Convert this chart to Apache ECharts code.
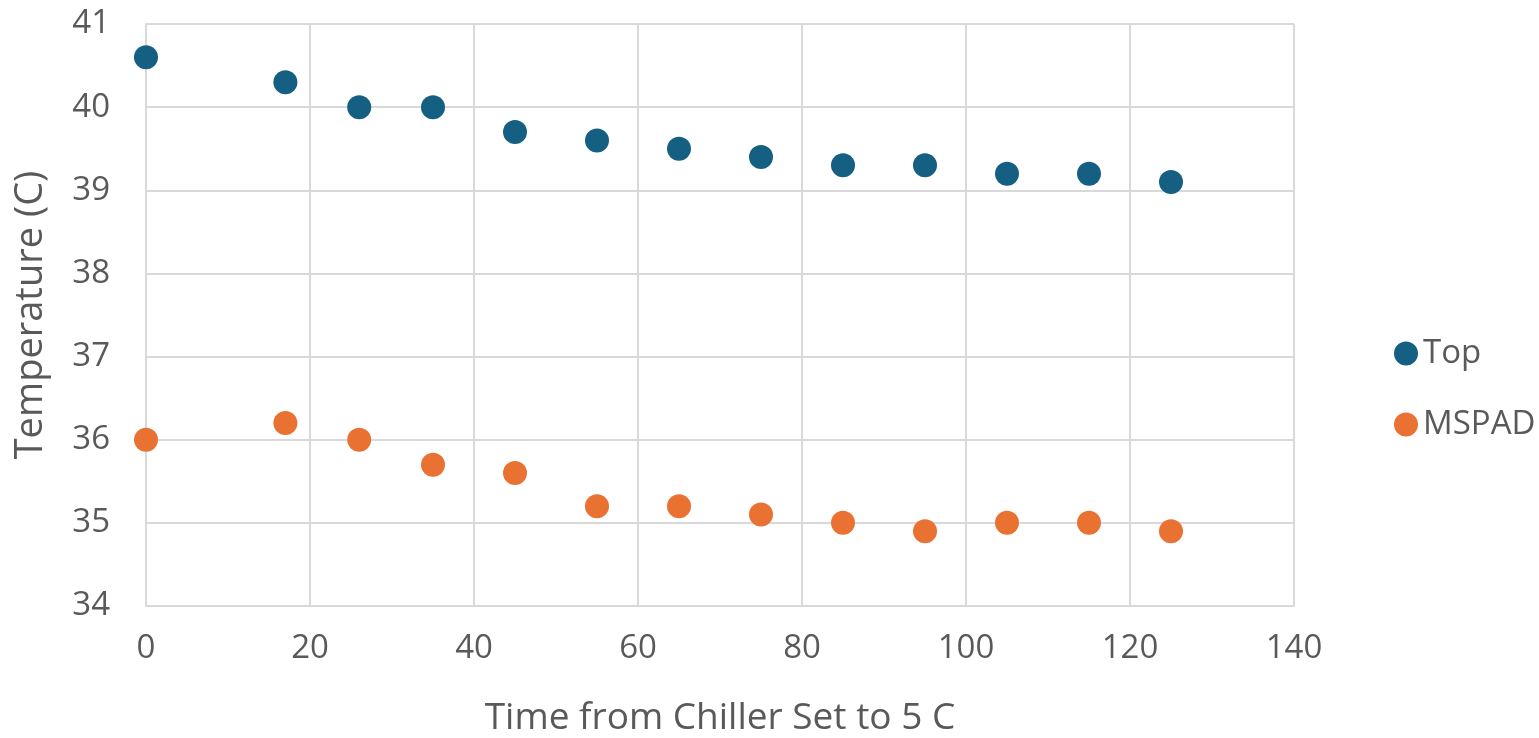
<!DOCTYPE html>
<html><head><meta charset="utf-8">
<script src="https://cdn.jsdelivr.net/npm/echarts@6/dist/echarts.min.js"></script>
<style>html,body{margin:0;padding:0;background:#fff}#c{width:1539px;height:738px}</style>
</head><body><div id="c"></div>
<script>
var times = [0, 17, 26, 35, 45, 55, 65, 75, 85, 95, 105, 115, 125];
var topVals = [40.6, 40.3, 40.0, 40.0, 39.7, 39.6, 39.5, 39.4, 39.3, 39.3, 39.2, 39.2, 39.1];
var mspadVals = [36.0, 36.2, 36.0, 35.7, 35.6, 35.2, 35.2, 35.1, 35.0, 34.9, 35.0, 35.0, 34.9];
var seriesNames = ['Top', 'MSPAD'];
var xTitle = 'Time from Chiller Set to 5 C';
var yTitle = 'Temperature (C)';

function pairs(xs, ys){ return xs.map(function(x,i){ return [x, ys[i]]; }); }
var font = '"Open Sans", sans-serif';
var txt = '#595959';
var chart = echarts.init(document.getElementById('c'));
chart.setOption({
  animation:false,
  textStyle:{fontFamily:font},
  grid:{left:146, right:245, top:24, bottom:132, containLabel:false, outerBoundsMode:'none'},
  legend:{
    orient:'vertical', left:1389, top:332, itemGap:38,
    itemWidth:24, itemHeight:24, icon:'circle',
    textStyle:{color:txt, fontSize:33, fontFamily:font},
    data:seriesNames
  },
  xAxis:{
    type:'value', min:0, max:140, interval:20,
    name:xTitle, nameLocation:'middle', nameGap:94,
    nameTextStyle:{color:txt, fontSize:37, fontFamily:font},
    axisLine:{show:true, lineStyle:{color:'#d9d9d9', width:2}},
    axisTick:{show:false},
    axisLabel:{color:txt, fontSize:33, margin:26, fontFamily:font},
    splitLine:{show:true, lineStyle:{color:'#d9d9d9', width:2}}
  },
  yAxis:{
    type:'value', min:34, max:41, interval:1,
    name:yTitle, nameLocation:'middle', nameGap:96,
    nameTextStyle:{color:txt, fontSize:38, fontFamily:font},
    axisLine:{show:true, lineStyle:{color:'#d9d9d9', width:2}},
    axisTick:{show:false},
    axisLabel:{color:txt, fontSize:33, margin:36, fontFamily:font},
    splitLine:{show:true, lineStyle:{color:'#d9d9d9', width:2}}
  },
  series:[
    {name:seriesNames[0], type:'scatter', symbolSize:24, itemStyle:{color:'#156082', opacity:1}, data:pairs(times, topVals)},
    {name:seriesNames[1], type:'scatter', symbolSize:24, itemStyle:{color:'#E97132', opacity:1}, data:pairs(times, mspadVals)}
  ]
});
</script></body></html>
